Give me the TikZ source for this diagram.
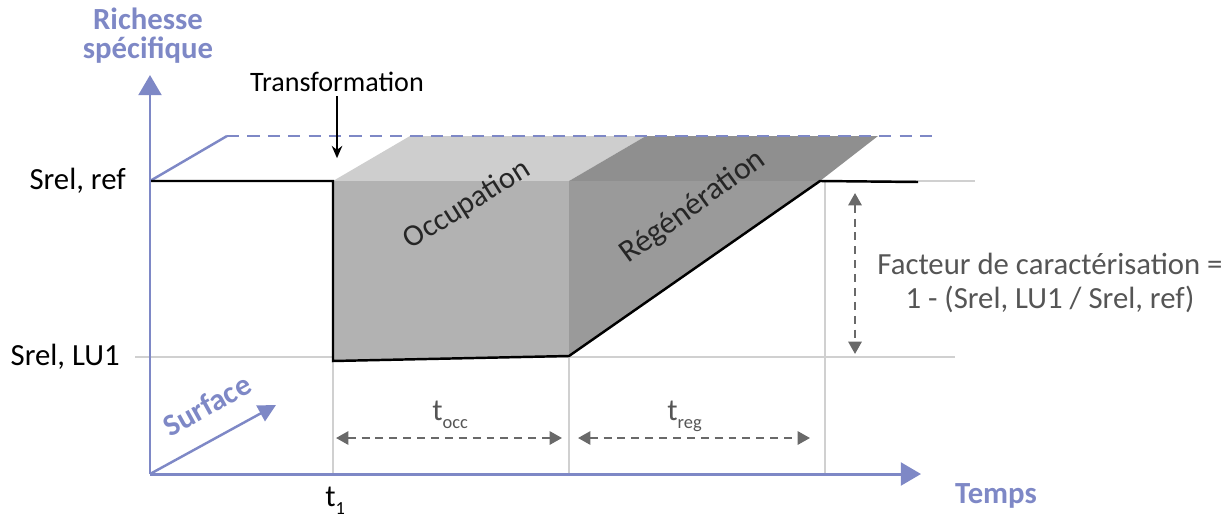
\documentclass[tikz,border=0pt]{standalone}
\usepackage{fontspec}
\setmainfont{Carlito}
\usetikzlibrary{arrows.meta,positioning,calc}
\definecolor{axisblue}{RGB}{126,136,198}
\definecolor{gridgray}{RGB}{208,208,208}
\definecolor{occfront}{RGB}{178,178,178}
\definecolor{occtop}{RGB}{206,206,206}
\definecolor{regfront}{RGB}{154,154,154}
\definecolor{regtop}{RGB}{143,143,143}
\definecolor{dimgray}{RGB}{105,105,105}
\definecolor{txtgray}{RGB}{85,85,85}
\newcommand{\tlow}[1]{\raisebox{-0.55ex}{\fontsize{10.5}{10.5}\selectfont #1}}
\begin{document}
\begin{tikzpicture}[x=0.02cm,y=-0.02cm,
    axis/.style={axisblue,line width=1.7pt},
    axislabel/.style={axisblue,font=\fontsize{17.5}{17.5}\selectfont\bfseries,inner sep=0pt},
    grid/.style={gridgray,line width=1.1pt},
    curve/.style={black,line width=1.4pt},
    dimarrow/.style={dimgray,line width=1.3pt,dash pattern=on 4.5pt off 3.4pt,{Triangle[length=7pt,width=7.5pt]}-{Triangle[length=7pt,width=7.5pt]}},
    lvl/.style={font=\fontsize{17.5}{17.5}\selectfont,inner sep=0pt}]
  \useasboundingbox (0,0) rectangle (1229,517);
  % Points de la courbe
  \coordinate (O) at (150,474);
  \coordinate (ytip) at (150,75);
  \coordinate (xtip) at (921,474);
  \coordinate (ref0) at (150,181);
  \coordinate (refT) at (333,181);
  \coordinate (luT) at (333,361);
  \coordinate (luE) at (569,356);
  \coordinate (refE) at (569,181);
  \coordinate (refR) at (820,181);
  \coordinate (refEnd) at (918,182);
  \coordinate (refGrid) at (975,181);
  \coordinate (luGrid0) at (135,357);
  \coordinate (luGrid) at (955,357);
  % Grille
  \draw[grid] (refT) -- (refGrid);
  \draw[grid] (luGrid0) -- (luGrid);
  \foreach \x in {333,569,825}{\draw[grid] (\x,181) -- (\x,474);}
  % Bloc occupation
  \fill[occtop] (refT) -- ++(77,-45) -- ($(refE)+(77,-45)$) -- (refE) -- cycle;
  \fill[occfront] (refT) -- (refE) -- (luE) -- (luT) -- cycle;
  % Bloc regeneration
  \fill[regtop] (refE) -- ++(77,-45) -- ($(refR)+(58,-45)$) -- (refR) -- cycle;
  \fill[regfront] (refE) -- (refR) -- (luE) -- cycle;
  % Surface en pointilles
  \draw[axisblue,line width=1.4pt] (ref0) -- (227,136) coordinate (back0);
  \draw[axisblue,line width=1.4pt,dash pattern=on 7pt off 4.6pt] (back0) -- (932,136);
  % Courbe
  \draw[curve] (ref0) -- (refT) -- (luT) -- (luE) -- (refR) -- (refEnd);
  % Axes
  \draw[axis,-{Triangle[length=11.5pt,width=13pt]}] (O) -- (ytip);
  \draw[axis,-{Triangle[length=11.5pt,width=13pt]}] (O) -- (xtip);
  \draw[axis,line width=1.4pt,-{Triangle[length=10pt,width=10pt]}] (O) -- (276,405) coordinate (stip);
  \node[axislabel,align=center] (ylabel) at (148,36) {Richesse\\[-1pt]spécifique};
  \node[axislabel] (xlabel) at (996,496) {Temps};
  \node[axislabel,rotate=29] (surflabel) at (207,405) {Surface};
  % Niveaux
  \node[lvl,anchor=east] (sref) at (126,181) {Srel, ref};
  \node[lvl,anchor=east] (slu) at (120,357) {Srel, LU1};
  \node[lvl,font=\fontsize{16}{16}\selectfont] (transf) at (337,82) {Transformation};
  \draw[line width=0.9pt,-{Stealth[length=7pt,width=6pt]}] (transf.south -| refT) ++(4,4) -- ++(0,62);
  \node[lvl,rotate=32,text=black!85] (occ) at (467,205) {Occupation};
  \node[lvl,rotate=36,text=black!85,font=\fontsize{18}{18}\selectfont] (reg) at (693,207) {Régénération};
  % Durees
  \node[lvl,anchor=base west] (t1) at (325,506) {t\tlow{1}};
  \node[lvl,txtgray,anchor=base west] (tocc) at (432,420) {t\tlow{occ}};
  \node[lvl,txtgray,anchor=base west] (treg) at (667,420) {t\tlow{reg}};
  \coordinate (occL) at (336,438);
  \coordinate (occR) at (562,438);
  \coordinate (regL) at (578,438);
  \coordinate (regR) at (810,438);
  \draw[dimarrow] (occL) -- (occR);
  \draw[dimarrow] (regL) -- (regR);
  % Facteur
  \coordinate (facT) at (855,193);
  \coordinate (facB) at (855,354);
  \draw[dimarrow] (facT) -- (facB);
  \node[lvl,txtgray,align=center] (facteur) at (1050,283) {Facteur de caractérisation =\\[2pt]1 - (Srel, LU1 / Srel, ref)};
\end{tikzpicture}
\end{document}
